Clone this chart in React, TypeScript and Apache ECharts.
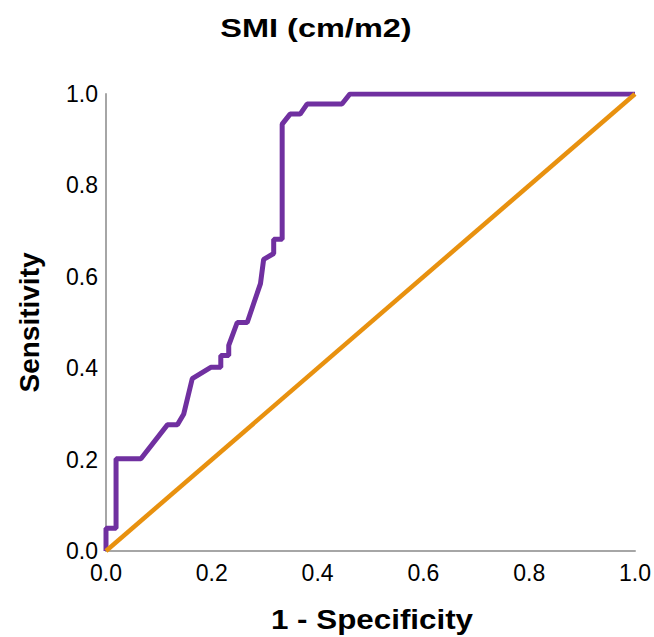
import React, { useEffect, useRef } from "react";
import * as echarts from "echarts";

const titleText = "SMI (cm/m2)";
const xAxisName = "1 - Specificity";
const yAxisName = "Sensitivity";

// ROC curve points: 1 - specificity (x) and sensitivity (y)
const rocFpr = [0, 0, 0.019, 0.019, 0.066, 0.116, 0.135, 0.147, 0.163, 0.198, 0.217, 0.217, 0.232, 0.232, 0.248, 0.267, 0.279, 0.292, 0.298, 0.317, 0.317, 0.333, 0.333, 0.348, 0.367, 0.38, 0.446, 0.461, 1];
const rocTpr = [0, 0.05, 0.05, 0.202, 0.202, 0.276, 0.276, 0.3, 0.377, 0.402, 0.402, 0.428, 0.428, 0.45, 0.5, 0.5, 0.541, 0.585, 0.638, 0.651, 0.682, 0.682, 0.934, 0.956, 0.956, 0.978, 0.978, 1, 1];

// Reference (chance) line
const refX = [0, 1];
const refY = [0, 1];

const FONT = "'Liberation Sans', Arial, Helvetica, sans-serif";

export default function App() {
  const ref = useRef<HTMLDivElement>(null);
  useEffect(() => {
    if (!ref.current) return;
    const chart = echarts.init(ref.current, null, { renderer: "svg" });
    const rocData = rocFpr.map((x, i) => [x, rocTpr[i]]);
    const refData = refX.map((x, i) => [x, refY[i]]);
    chart.setOption({
      animation: false,
      backgroundColor: "#ffffff",
      graphic: [
        {
          type: "text",
          x: 316,
          y: 28,
          scaleX: 1.25,
          style: {
            text: titleText,
            font: `bold 26px ${FONT}`,
            fill: "#000",
            textAlign: "center",
            textVerticalAlign: "middle",
          },
        },
        {
          type: "text",
          x: 372,
          y: 619,
          scaleX: 1.12,
          style: {
            text: xAxisName,
            font: `bold 28px ${FONT}`,
            fill: "#000",
            textAlign: "center",
            textVerticalAlign: "middle",
          },
        },
      ],
      grid: { left: 106, right: 17, top: 94, bottom: 86, containLabel: false },
      xAxis: {
        type: "value",
        min: 0,
        max: 1,
        interval: 0.2,
        axisLine: { show: true, lineStyle: { color: "#a6a6a6", width: 2 } },
        axisTick: { show: false },
        splitLine: { show: false },
        axisLabel: {
          margin: 10,
          fontFamily: FONT,
          fontSize: 23,
          color: "#000",
          formatter: (v: number) => v.toFixed(1),
        },
      },
      yAxis: {
        type: "value",
        min: 0,
        max: 1,
        interval: 0.2,
        name: yAxisName,
        nameLocation: "middle",
        nameRotate: 90,
        nameGap: 63,
        nameTextStyle: { fontFamily: FONT, fontSize: 28, fontWeight: "bold", color: "#000" },
        axisLine: { show: true, lineStyle: { color: "#a6a6a6", width: 2 } },
        axisTick: { show: false },
        splitLine: { show: false },
        axisLabel: {
          margin: 8,
          fontFamily: FONT,
          fontSize: 23,
          color: "#000",
          formatter: (v: number) => v.toFixed(1),
        },
      },
      series: [
        {
          type: "line",
          data: rocData,
          showSymbol: false,
          symbol: "none",
          lineStyle: { color: "#7030a0", width: 5 },
          z: 2,
        },
        {
          type: "line",
          data: refData,
          showSymbol: false,
          symbol: "none",
          lineStyle: { color: "#e8910f", width: 4.5 },
          z: 3,
        },
      ],
    });
    return () => chart.dispose();
  }, []);
  return (
    <div
      ref={ref}
      style={{ position: "fixed", left: 0, top: 0, width: 654, height: 637, background: "#fff" }}
    />
  );
}
